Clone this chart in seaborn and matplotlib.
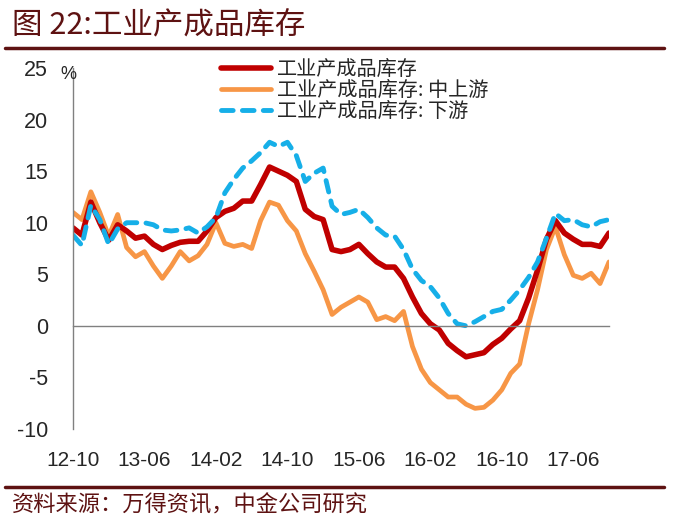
import pandas as pd
import numpy as np
import matplotlib
matplotlib.use("Agg")
import matplotlib.pyplot as plt
import seaborn as sns
from matplotlib.lines import Line2D

sns.set_style("white")
plt.rcParams['font.family'] = ['Noto Sans CJK SC', 'DejaVu Sans']
plt.rcParams['axes.unicode_minus'] = False

# 月度数据 2012-10 ~ 2017-10, %
total = [9.5, 8.8, 12.0, 10.0, 8.3, 9.8, 9.2, 8.5, 8.7, 7.9,
         7.4, 7.8, 8.1, 8.2, 8.2, 9.2, 10.5, 11.1, 11.4, 12.1,
         12.1, 13.7, 15.4, 15.0, 14.6, 14.0, 11.3, 10.6, 10.3, 7.4,
         7.2, 7.4, 7.9, 7.0, 6.2, 5.7, 5.7, 4.6, 2.8, 1.2,
         0.2, -0.4, -1.7, -2.4, -3.0, -2.8, -2.6, -1.8, -1.2, -0.3,
         0.5, 2.7, 5.4, 8.4, 10.2, 9.0, 8.4, 7.9, 7.9, 7.7, 9.0]
upstream = [11.0, 10.3, 13.0, 11.0, 8.7, 10.8, 7.6, 6.7, 7.2, 5.8,
            4.6, 5.8, 7.2, 6.3, 6.8, 7.9, 10.0, 8.0, 7.7, 7.9,
            7.5, 10.2, 12.0, 11.7, 10.2, 9.2, 7.0, 5.3, 3.5, 1.1,
            1.8, 2.3, 2.8, 2.3, 0.6, 0.9, 0.5, 1.4, -2.0, -4.2,
            -5.5, -6.2, -6.9, -6.9, -7.6, -8.0, -7.9, -7.2, -6.2, -4.6,
            -3.7, 0.2, 3.5, 7.4, 9.6, 6.9, 4.9, 4.6, 5.1, 4.1, 6.2]
downstream = [8.8, 7.8, 11.7, 10.3, 7.9, 9.4, 10.0, 10.0, 10.0, 9.8,
              9.3, 9.2, 9.3, 9.5, 9.0, 9.6, 10.5, 12.9, 14.2, 15.3,
              16.0, 16.8, 17.8, 17.4, 17.8, 16.5, 14.0, 14.8, 15.3, 11.6,
              10.8, 11.0, 11.3, 10.5, 9.5, 8.8, 8.7, 7.4, 5.5, 4.4,
              3.8, 2.7, 1.2, 0.2, 0.0, 0.4, 0.9, 1.4, 1.6, 2.5,
              3.5, 4.7, 6.2, 8.5, 10.9, 10.2, 10.3, 9.8, 9.6, 10.1, 10.3]
tick_labels = ['12-10', '13-06', '14-02', '14-10', '15-06', '16-02', '16-10', '17-06']

names = ['工业产成品库存', '工业产成品库存: 中上游', '工业产成品库存: 下游']
months = pd.period_range('2012-10', periods=len(total), freq='M')
df = pd.DataFrame({'idx': np.arange(len(months)), 'month': months.strftime('%y-%m'),
                   names[0]: total, names[1]: upstream, names[2]: downstream})

maroon = '#5E1212'
c_red, c_orange, c_blue = '#C00000', '#F79646', '#16AFE8'
num_font = ['Liberation Sans', 'DejaVu Sans']

fig = plt.figure(figsize=(6.8, 5.28), dpi=100)
ax = fig.add_axes([73 / 680, 1 - 429 / 528, 536 / 680, 361 / 528])

sns.lineplot(data=df, x='idx', y=names[1], ax=ax, color=c_orange, linewidth=3.4,
             solid_capstyle='round', solid_joinstyle='round')
sns.lineplot(data=df, x='idx', y=names[0], ax=ax, color=c_red, linewidth=4.0,
             solid_capstyle='round', solid_joinstyle='round')
sns.lineplot(data=df, x='idx', y=names[2], ax=ax, color=c_blue, linewidth=3.5)
l_org, l_red, l_blue = ax.lines[0], ax.lines[1], ax.lines[2]
l_blue.set_dashes((2.4, 1.9))
l_blue.set_dash_capstyle('round')

ax.set_xlim(0, len(total) - 1)
ax.set_ylim(-10, 25)
ax.set_xlabel('')
ax.set_ylabel('')

# 坐标轴样式
for s in ['top', 'right']:
    ax.spines[s].set_visible(False)
ax.spines['left'].set_color('#808080')
ax.spines['bottom'].set_color('#808080')
ax.spines['bottom'].set_position(('data', 0))
ax.spines['left'].set_linewidth(1)
ax.spines['bottom'].set_linewidth(1)

tick_pos = df.loc[df['month'].isin(tick_labels), 'idx'].tolist()
ax.set_xticks(tick_pos)
ax.set_xticklabels(tick_labels, family=num_font, fontsize=15)
ax.set_yticks(range(-10, 30, 5))
ax.set_yticklabels([str(v) for v in range(-10, 30, 5)], family=num_font, fontsize=15.5)
ax.tick_params(axis='x', direction='in', length=5, color='#808080', pad=90)
ax.tick_params(axis='y', direction='in', length=4, color='#808080', pad=18)

ax.text(-0.5, 25.2, '%', fontsize=13, family=num_font,
        ha='center', va='top', transform=ax.transData)

leg = ax.legend([l_red, l_org, Line2D([], [], color=c_blue, lw=3.5, dashes=(2.4, 1.9),
                                      dash_capstyle='round')],
                names, loc='upper left', bbox_to_anchor=(211 / 680, 1 - 49 / 528),
                bbox_transform=fig.transFigure, frameon=False, fontsize=14.5,
                handlelength=2.5, handletextpad=0.3, labelspacing=0.0, borderpad=0)

# 标题、来源与分隔线
fig.text(12 / 680, 1 - 25 / 528, '图 22:工业产成品库存', fontsize=22, color=maroon,
         va='center', ha='left')
fig.add_artist(Line2D([5 / 680, 664 / 680], [1 - 48 / 528] * 2, color=maroon, lw=2.5,
                      transform=fig.transFigure))
fig.add_artist(Line2D([5 / 680, 664 / 680], [1 - 487 / 528] * 2, color=maroon, lw=2.5,
                      transform=fig.transFigure))
fig.text(12 / 680, 1 - 505 / 528, '资料来源：万得资讯，中金公司研究', fontsize=16, color=maroon,
         va='center', ha='left')

fig.savefig('out.png', dpi=100)
